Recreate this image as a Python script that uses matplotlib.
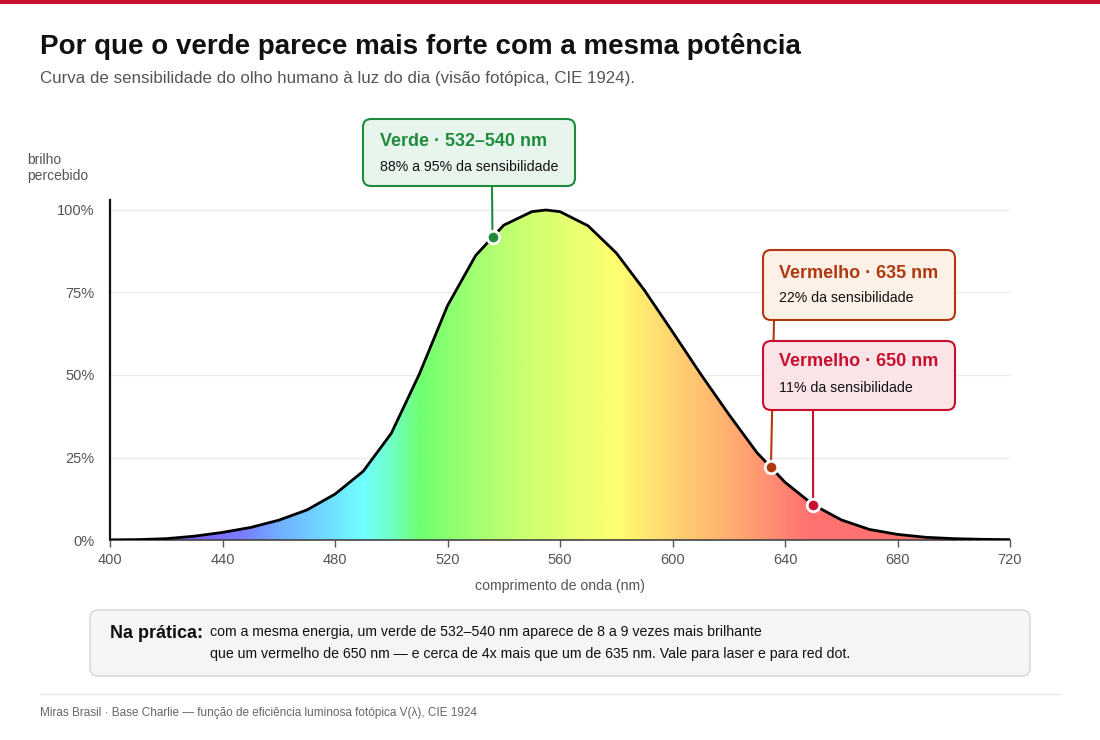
import numpy as np
import matplotlib
matplotlib.use("Agg")
import matplotlib.pyplot as plt
from matplotlib.patches import FancyBboxPatch, Rectangle, Polygon
from matplotlib.colors import LinearSegmentedColormap
from matplotlib.transforms import IdentityTransform

plt.rcParams["font.family"] = ["Liberation Sans", "DejaVu Sans"]

# V(lambda)
wavelength = [400, 410, 420, 430, 440, 450, 460, 470, 480, 490, 500, 510, 520,
              530, 540, 550, 555, 560, 570, 580, 590, 600, 610, 620, 630, 640,
              650, 660, 670, 680, 690, 700, 710, 720]
sensitivity = [0.0004, 0.0012, 0.004, 0.0116, 0.023, 0.038, 0.060, 0.091, 0.139,
               0.208, 0.323, 0.503, 0.710, 0.862, 0.954, 0.995, 1.000, 0.995,
               0.952, 0.870, 0.757, 0.631, 0.503, 0.381, 0.265, 0.175, 0.107,
               0.061, 0.032, 0.017, 0.0082, 0.0041, 0.0021, 0.00105]

marker_nm = [536, 635, 650]
marker_val = [0.918, 0.221, 0.107]
marker_col = ["#1e8c3c", "#b0380f", "#c8102e"]

x_ticks = [400, 440, 480, 520, 560, 600, 640, 680, 720]
y_ticks = [0, 0.25, 0.5, 0.75, 1.0]
y_labels = ["0%", "25%", "50%", "75%", "100%"]

W, H = 1100, 740
fig = plt.figure(figsize=(11, 7.4), dpi=100)


def fx(x):
    return x / W


def fy(y):
    return 1 - y / H


ax = fig.add_axes([fx(110), fy(540), fx(900), 340 / H])
ax.set_xlim(400, 720)
ax.set_ylim(0, 340 / 330)

# spectrum gradient clipped to the curve
stops = [(400, "#9a8cff"), (430, "#7c64ff"), (445, "#7a78ff"), (460, "#70b0ff"),
         (480, "#70e4ff"), (490, "#70ffff"), (500, "#70ffc4"), (510, "#70ff70"),
         (530, "#a4ff70"), (550, "#d0ff70"), (570, "#f0ff70"), (580, "#ffff70"),
         (600, "#ffd472"), (620, "#ffb070"), (640, "#ff8472"), (650, "#ff7070"),
         (720, "#ff7070")]
cmap = LinearSegmentedColormap.from_list(
    "spec", [((w - 400) / 320, c) for w, c in stops])
grad = np.linspace(0, 1, 640).reshape(1, -1)
im = ax.imshow(grad, cmap=cmap, aspect="auto", extent=[400, 720, 0, 1.0],
               origin="lower", zorder=1)
poly = Polygon(list(zip(wavelength, sensitivity)) + [(720, 0), (400, 0)],
               closed=True, facecolor="none", edgecolor="none",
               transform=ax.transData)
ax.add_patch(poly)
im.set_clip_path(poly)

ax.plot(wavelength, sensitivity, color="black", lw=2, zorder=3,
        solid_joinstyle="round")

for yt in y_ticks[1:]:
    ax.axhline(yt, color="#ebebeb", lw=1, zorder=0)

ax.set_xticks(x_ticks)
ax.set_xticklabels([str(t) for t in x_ticks])
ax.set_yticks(y_ticks)
ax.set_yticklabels(y_labels)
ax.tick_params(axis="x", length=5, width=1, color="#555555", colors="#555555",
               labelsize=10.5, pad=4)
ax.tick_params(axis="y", length=0, colors="#555555", labelsize=10.5, pad=11)
for s in ["top", "right"]:
    ax.spines[s].set_visible(False)
ax.spines["left"].set_color("#111111")
ax.spines["left"].set_linewidth(1.6)
ax.spines["bottom"].set_color("#444444")
ax.spines["bottom"].set_linewidth(1.2)
ax.set_xlabel("comprimento de onda (nm)", color="#555555", fontsize=10.2,
              labelpad=9)


def px_to_data(px, py):
    return 400 + (px - 110) / 900 * 320, (540 - py) / 330


# connector lines from boxes to points
lines_from = [(492, 186), (774, 320), (813, 410)]
for (bx, by), nm, v, c in zip(lines_from, marker_nm, marker_val, marker_col):
    dx, dy = px_to_data(bx, by)
    ax.plot([dx, nm], [dy, v], color=c, lw=1.5, clip_on=False, zorder=4)
    ax.plot(nm, v, "o", ms=9, color=c, mec="white", mew=2, zorder=5,
            clip_on=False)


def box(x0, y0, x1, y1, fc, ec, lw=1.5, r=8):
    p = FancyBboxPatch((x0, H - y1), x1 - x0, y1 - y0,
                       boxstyle=f"round,pad=0,rounding_size={r}",
                       facecolor=fc, edgecolor=ec, linewidth=lw,
                       transform=IdentityTransform(), zorder=5)
    fig.patches.append(p)


# top red bar
fig.patches.append(Rectangle((0, fy(4)), 1, 4 / H, transform=fig.transFigure,
                             facecolor="#c8102e", edgecolor="none"))

fig.text(fx(40), fy(47), "Por que o verde parece mais forte com a mesma potência",
         fontsize=20, fontweight="bold", color="#111111", va="center")
fig.text(fx(40), fy(78), "Curva de sensibilidade do olho humano à luz do dia "
         "(visão fotópica, CIE 1924).", fontsize=12.2, color="#555555", va="center")
fig.text(fx(27), fy(168), "brilho\npercebido", fontsize=10, color="#555555",
         va="center", linespacing=1.15)

# annotation boxes
box(363, 119, 575, 186, "#e8f5ec", "#1e8c3c")
fig.text(fx(380), fy(141), "Verde · 532–540 nm", fontsize=13,
         fontweight="bold", color="#1e8c3c", va="center", zorder=6)
fig.text(fx(380), fy(167), "88% a 95% da sensibilidade", fontsize=10.2,
         color="#111111", va="center", zorder=6)

box(763, 250, 955, 320, "#fdf0e6", "#b0380f")
fig.text(fx(779), fy(273), "Vermelho · 635 nm", fontsize=13,
         fontweight="bold", color="#b0380f", va="center", zorder=6)
fig.text(fx(779), fy(298), "22% da sensibilidade", fontsize=10.2,
         color="#111111", va="center", zorder=6)

box(763, 341, 955, 410, "#fae4e8", "#c8102e")
fig.text(fx(779), fy(362), "Vermelho · 650 nm", fontsize=13,
         fontweight="bold", color="#c8102e", va="center", zorder=6)
fig.text(fx(779), fy(388), "11% da sensibilidade", fontsize=10.2,
         color="#111111", va="center", zorder=6)

# bottom note
box(90, 610, 1030, 676, "#f5f5f5", "#d4d4d4", lw=1)
fig.text(fx(110), fy(633), "Na prática:", fontsize=13, fontweight="bold",
         color="#111111", va="center", zorder=6)
fig.text(fx(210), fy(632), "com a mesma energia, um verde de 532–540 nm aparece "
         "de 8 a 9 vezes mais brilhante", fontsize=10.2, color="#111111",
         va="center", zorder=6)
fig.text(fx(210), fy(654), "que um vermelho de 650 nm — e cerca de 4x mais que "
         "um de 635 nm. Vale para laser e para red dot.", fontsize=10.2,
         color="#111111", va="center", zorder=6)

fig.lines.append(plt.Line2D([fx(40), fx(1060)], [fy(694), fy(694)],
                            transform=fig.transFigure, color="#e6e6e6", lw=1))
fig.text(fx(40), fy(713), "Miras Brasil · Base Charlie — função de eficiência "
         "luminosa fotópica V(λ), CIE 1924", fontsize=8.5, color="#666666",
         va="center")

fig.savefig("out.png", dpi=100, facecolor="white")
